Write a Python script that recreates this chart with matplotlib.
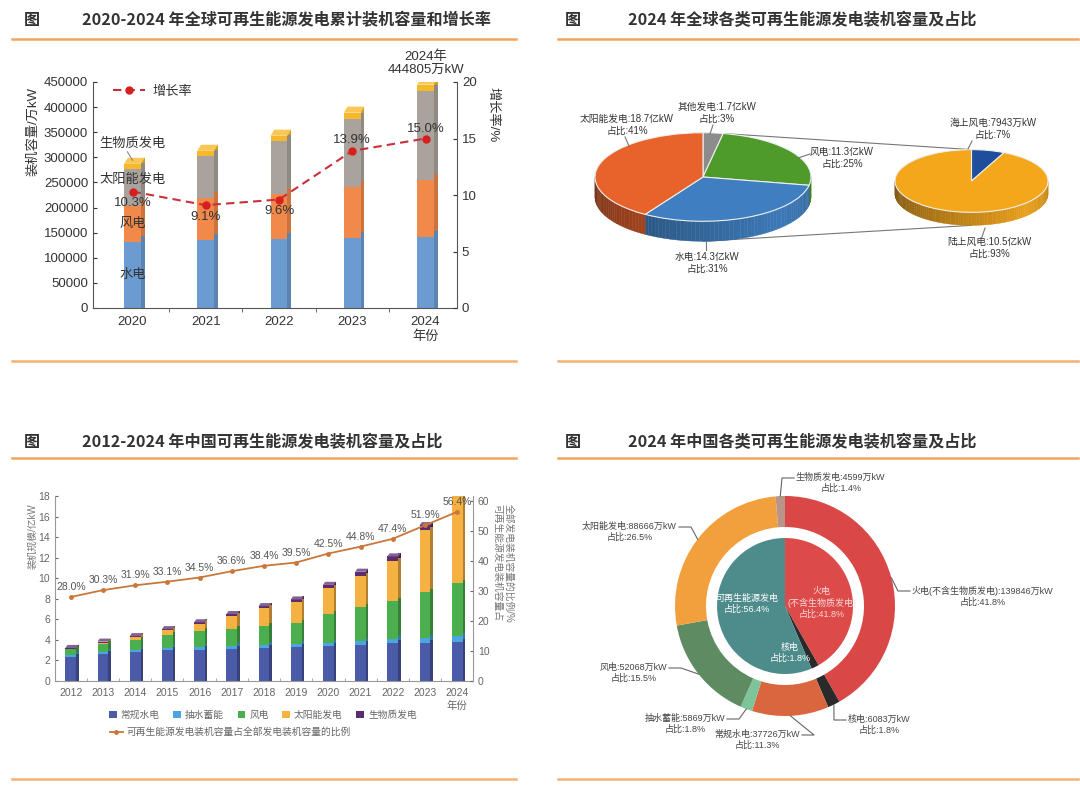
import numpy as np
import matplotlib
matplotlib.use("Agg")
import matplotlib.pyplot as plt
import matplotlib.colors as mcolors
from matplotlib.patches import Polygon, Patch
from matplotlib.lines import Line2D

plt.rcParams["font.family"] = ["Liberation Sans", "Noto Sans CJK SC", "DejaVu Sans"]
plt.rcParams["axes.unicode_minus"] = False

# ---------------- data ----------------
# Panel 1: global renewable capacity (万kW) and growth rate (%)
g_years = ["2020", "2021", "2022", "2023", "2024"]
g_hydro = [131000, 135000, 138000, 140000, 141000]
g_wind = [73000, 84000, 88000, 101000, 114000]
g_solar = [72000, 83000, 106000, 136000, 177000]
g_bio = [11000, 11000, 11000, 12000, 12805]
g_growth = [10.3, 9.1, 9.6, 13.9, 15.0]
g_series = ["水电", "风电", "太阳能发电", "生物质发电"]
g_line_name = "增长率"

# Panel 2: 2024 global renewable capacity mix
p_names = ["其他发电", "风电", "水电", "太阳能发电"]
p_caps = ["1.7亿kW", "11.3亿kW", "14.3亿kW", "18.7亿kW"]
p_share = [3, 25, 31, 41]
w_names = ["海上风电", "陆上风电"]
w_caps = ["7943万kW", "10.5亿kW"]
w_share = [7, 93]

# Panel 3: China renewable capacity (亿kW) and share (%)
c_years = ["2012", "2013", "2014", "2015", "2016", "2017", "2018",
           "2019", "2020", "2021", "2022", "2023", "2024"]
c_conv = [2.29, 2.59, 2.80, 2.97, 3.06, 3.13, 3.22, 3.26, 3.39, 3.55, 3.68, 3.71, 3.77]
c_pump = [0.20, 0.22, 0.22, 0.23, 0.27, 0.29, 0.30, 0.30, 0.31, 0.36, 0.45, 0.51, 0.59]
c_wind = [0.61, 0.77, 0.96, 1.31, 1.49, 1.64, 1.84, 2.10, 2.82, 3.28, 3.65, 4.41, 5.21]
c_solar = [0.03, 0.16, 0.28, 0.43, 0.77, 1.30, 1.74, 2.04, 2.53, 3.06, 3.93, 6.09, 8.87]
c_bio = [0.08, 0.09, 0.10, 0.10, 0.12, 0.15, 0.18, 0.23, 0.30, 0.38, 0.41, 0.44, 0.46]
c_ratio = [28.0, 30.3, 31.9, 33.1, 34.5, 36.6, 38.4, 39.5, 42.5, 44.8, 47.4, 51.9, 56.4]
c_series = ["常规水电", "抽水蓄能", "风电", "太阳能发电", "生物质发电"]
c_line_name = "可再生能源发电装机容量占全部发电装机容量的比例"

# Panel 4: 2024 China capacity mix (万kW)
d_names = ["火电(不含生物质发电)", "核电", "常规水电", "抽水蓄能", "风电", "太阳能发电", "生物质发电"]
d_caps = [139846, 6083, 37726, 5869, 52068, 88666, 4599]
d_share = [41.8, 1.8, 11.3, 1.8, 15.5, 26.5, 1.4]
d_inner_names = ["火电\n(不含生物质发电)", "核电", "可再生能源发电"]
d_inner_share = [41.8, 1.8, 56.4]

# ---------------- helpers ----------------
W, H = 1080, 787
fig = plt.figure(figsize=(W / 100, H / 100), dpi=100)
fig.patch.set_facecolor("white")
CJK = ["Noto Sans CJK SC", "DejaVu Sans"]


def axbox(x0, y0, x1, y1):
    return fig.add_axes([x0 / W, 1 - y1 / H, (x1 - x0) / W, (y1 - y0) / H])


def ftext(px, py, s, **kw):
    return fig.text(px / W, 1 - py / H, s, **kw)


def fpoly(xs, ys, **kw):
    fig.add_artist(Line2D([x / W for x in xs], [1 - y / H for y in ys],
                          transform=fig.transFigure, **kw))


def shade(c, f):
    r, g, b = mcolors.to_rgb(c)
    if f <= 1:
        return (r * f, g * f, b * f)
    t = f - 1
    return (r + (1 - r) * t, g + (1 - g) * t, b + (1 - b) * t)


def bars3d(ax, x, series, cols, w, sd, cap, side_f, cap_f):
    bottom = np.zeros(len(x))
    bottoms = []
    for i, (vals, c) in enumerate(zip(series, cols)):
        v = np.array(vals, float)
        bottoms.append(bottom.copy())
        ax.bar(x, v, w, bottom=bottom, color=c, lw=0, zorder=2)
        sb = bottom + cap if i > 0 else bottom
        sh = v if i > 0 else v + cap
        ax.bar(x + w / 2 + sd / 2, sh, sd, bottom=sb, color=shade(c, side_f), lw=0, zorder=2)
        bottom = bottom + v
    for xi, t in zip(x, bottom):
        ax.fill([xi - w / 2, xi + w / 2, xi + w / 2 + sd, xi - w / 2 + sd],
                [t, t, t + cap, t + cap], color=shade(cols[-1], cap_f), lw=0, zorder=3)
    return bottom, bottoms


# ---------------- titles & rules ----------------
ORANGE = "#F2A45E"
TCOL = "#333333"
layout = [
    (12, 516, 20, 39, 361, 32, 82, "2020-2024 年全球可再生能源发电累计装机容量和增长率"),
    (558, 1078, 20, 39, 361, 573, 628, "2024 年全球各类可再生能源发电装机容量及占比"),
    (12, 516, 442, 458, 779, 32, 82, "2012-2024 年中国可再生能源发电装机容量及占比"),
    (558, 1078, 442, 458, 779, 573, 628, "2024 年中国各类可再生能源发电装机容量及占比"),
]
for x0, x1, ty, ly, by, gx, tx, t in layout:
    ftext(gx, ty, "图", fontsize=11.6, weight="bold", color=TCOL, family=CJK,
          ha="center", va="center")
    ftext(tx, ty, t, fontsize=11.6, weight="bold", color=TCOL, family=CJK,
          ha="left", va="center")
    fpoly([x0, x1], [ly, ly], color=ORANGE, lw=1.8)
    fpoly([x0, x1], [by, by], color=ORANGE, lw=1.8, alpha=0.85)

# ---------------- Panel 1 ----------------
ax1 = axbox(93, 82, 457, 308)
x1 = np.arange(len(g_years))
c1 = ["#6C9BD2", "#F0894A", "#A9A29D", "#F6B92B"]
tot1, seg_bottoms = bars3d(ax1, x1, [g_hydro, g_wind, g_solar, g_bio], c1,
                           0.23, 0.05, 12000, 0.85, 1.2)

ax1.set_xlim(-0.54, 4.43)
ax1.set_ylim(0, 450000)
ax1.set_yticks(np.arange(0, 450001, 50000))
ax1.set_xticks(x1)
ax1.set_xticklabels(g_years[:-1] + [g_years[-1] + "\n年份"], linespacing=1.25)
ax1.set_xticks(x1[:-1] + 0.5, minor=True)
ax1.tick_params(axis="x", which="major", length=0, pad=6, labelsize=9.5, colors="#333")
ax1.tick_params(axis="x", which="minor", length=3, direction="out", color="#555")
ax1.tick_params(axis="y", length=3, direction="in", labelsize=9.5, colors="#333")
ax1.spines["top"].set_visible(False)
ax1.spines["right"].set_visible(False)
for s in ["left", "bottom"]:
    ax1.spines[s].set_color("#555")

ax1r = ax1.twinx()
ax1r.set_ylim(0, 20)
ax1r.set_yticks([0, 5, 10, 15, 20])
ax1r.tick_params(axis="y", length=3, direction="in", labelsize=9.5, colors="#333")
ax1r.spines["top"].set_visible(False)
ax1r.spines["left"].set_visible(False)
ax1r.spines["bottom"].set_visible(False)
ax1r.spines["right"].set_color("#555")
line_kw = dict(color="#C9303B", lw=1.5, ls=(0, (4, 2.5)), marker="o", ms=5,
               mfc="#D71F1F", mec="#D71F1F")
ax1r.plot(x1, g_growth, zorder=5, **line_kw)
g_lab_dy = [-11, -12, -11, 11, 10]
for xi, v, dy in zip(x1, g_growth, g_lab_dy):
    ax1r.annotate(f"{v:.1f}%", (xi, v), xytext=(0, dy), textcoords="offset pixels",
                  ha="center", va="center", fontsize=9.5, color="#333")

# series names on first bar
seg_vals = [g_hydro, g_wind, g_solar]
seg_frac = [0.5, 0.5, 0.72]
for name, b, v, fr in zip(g_series[:3], seg_bottoms[:3], seg_vals, seg_frac):
    ax1.text(x1[0], b[0] + v[0] * fr, name, ha="center", va="center",
             fontsize=9.5, color="#333", zorder=6)
ax1.text(x1[0], tot1[0] + 40000, g_series[3], ha="center", va="center",
         fontsize=9.5, color="#333", zorder=6)
ax1.plot([x1[0] - 0.07, x1[0]], [tot1[0] + 24000, tot1[0] + 7000], color="#888",
         lw=0.8, zorder=6)

ax1.annotate(f"{g_years[-1]}年\n{int(round(tot1[-1]))}万kW", (x1[-1], tot1[-1]),
             xytext=(0, 9), textcoords="offset pixels", ha="center", va="bottom",
             fontsize=9.5, color="#333", linespacing=1.1, annotation_clip=False)

leg1 = ax1.legend([Line2D([], [], **line_kw)], [g_line_name], loc="center left",
                  bbox_to_anchor=(0.055, 0.956), frameon=False, fontsize=9.5,
                  handlelength=2.4, handletextpad=0.6, borderpad=0, borderaxespad=0)
for txt in leg1.get_texts():
    txt.set_color("#333")

ftext(33, 132, "装机容量/万kW", rotation=90, ha="center", va="center",
      fontsize=9.5, color="#333")
ftext(493, 115, "增长率/%", rotation=-90, ha="center", va="center",
      fontsize=9.5, color="#333")

# ---------------- Panel 2 ----------------
ax2 = axbox(559, 45, 1078, 355)
K = 0.41


def py2d(py):
    return (H - py) / K


def pie_side(ax, wedges, cols, center, r, depth):
    cx, cy = center
    for wdg, c in zip(wedges, cols):
        t1, t2 = wdg.theta1, wdg.theta2
        for k in range(-3, 2):
            a, b = max(t1, 180 + 360 * k), min(t2, 360 + 360 * k)
            if b <= a:
                continue
            edges = np.linspace(a, b, max(2, int((b - a) / 2) + 1))
            for e0, e1 in zip(edges[:-1], edges[1:]):
                ts = np.radians(np.linspace(e0, e1, 4))
                xs = cx + r * np.cos(ts)
                ys = cy + r * np.sin(ts)
                tm = ts.mean()
                mid = np.degrees(np.arctan2(np.sin(tm), np.cos(tm)))
                f = 0.5 + 0.45 * max(0.0, 1 - abs(mid + 45) / 135)
                poly = np.column_stack([np.r_[xs, xs[::-1]], np.r_[ys, ys[::-1] - depth]])
                ax.add_patch(Polygon(poly, closed=True, fc=shade(c, f), ec=shade(c, f),
                                     lw=0.3, zorder=0.5))


p_cols = ["#8C8C8C", "#4E9A2B", "#3F7FC1", "#E8622B"]
w_cols = ["#1F4E9C", "#F5A71C"]
c_main, r_main, dep_main = (703, py2d(177)), 108, 20 / K
c_sec, r_sec, dep_sec = (971.5, py2d(181)), 76.5, 13 / K
wp = dict(edgecolor="#eeeeee", lw=0.8)
wm, _ = ax2.pie(p_share, colors=p_cols, startangle=90, counterclock=False,
                center=c_main, radius=r_main, wedgeprops=wp)
ws, _ = ax2.pie(w_share, colors=w_cols, startangle=90, counterclock=False,
                center=c_sec, radius=r_sec, wedgeprops=wp)
pie_side(ax2, wm, p_cols, c_main, r_main, dep_main)
pie_side(ax2, ws, w_cols, c_sec, r_sec, dep_sec)
ax2.set_aspect("auto")
ax2.set_xlim(559, 1078)
ax2.set_ylim(py2d(355), py2d(45))
ax2.axis("off")
tb = np.radians(wm[0].theta1)
ax2.plot([c_main[0] + r_main * np.cos(tb), c_sec[0]],
         [c_main[1] + r_main * np.sin(tb), c_sec[1] + r_sec], color="#777", lw=0.8, zorder=0.4)
ax2.plot([c_main[0], c_sec[0]],
         [c_main[1] - r_main - dep_main, c_sec[1] - r_sec - dep_sec],
         color="#777", lw=0.8, zorder=0.4)

p_pos = [(717, 113), (842, 158), (707, 263), (627, 125)]
p_lead = [((713, 125), (710, 134)), ((810, 154), (798, 158)),
          ((706, 242), (706, 250)), ((625, 137), (629, 146))]
for n, cap, sh, (tx, ty), (a, b) in zip(p_names, p_caps, p_share, p_pos, p_lead):
    ftext(tx, ty, f"{n}:{cap}\n占比:{sh}%", ha="center", va="center",
          multialignment="center", fontsize=7, color="#333", linespacing=1.25)
    fpoly([a[0], b[0]], [a[1], b[1]], color="#777", lw=0.8)
w_pos = [(993, 129), (989, 248)]
w_lead = [((972, 141), (968, 149)), ((985, 228), (982, 237))]
for n, cap, sh, (tx, ty), (a, b) in zip(w_names, w_caps, w_share, w_pos, w_lead):
    ftext(tx, ty, f"{n}:{cap}\n占比:{sh}%", ha="center", va="center",
          multialignment="center", fontsize=7, color="#333", linespacing=1.25)
    fpoly([a[0], b[0]], [a[1], b[1]], color="#777", lw=0.8)

# ---------------- Panel 3 ----------------
ax3 = axbox(55, 496, 473, 681)
x3 = np.arange(len(c_years))
c3 = ["#4B5BA8", "#4AA6E0", "#4CAF4F", "#F5B142", "#5B2C6F"]
bars3d(ax3, x3, [c_conv, c_pump, c_wind, c_solar, c_bio], c3, 0.34, 0.07, 0.3, 0.72, 1.25)
ax3.set_xlim(-0.49, 12.49)
ax3.set_ylim(0, 18)
ax3.set_yticks(np.arange(0, 19, 2))
ax3.set_xticks(x3)
ax3.set_xticklabels(c_years[:-1] + [c_years[-1] + "\n年份"], linespacing=1.3)
ax3.set_xticks(x3[:-1] + 0.5, minor=True)
ax3.tick_params(axis="x", which="major", length=0, pad=5, labelsize=7.5, colors="#666")
ax3.tick_params(axis="x", which="minor", length=2.5, direction="in", color="#999")
ax3.tick_params(axis="y", length=2.5, direction="in", labelsize=7.5, colors="#666")
ax3.spines["top"].set_visible(False)
ax3.spines["right"].set_visible(False)
for s in ["left", "bottom"]:
    ax3.spines[s].set_color("#999")
ax3r = ax3.twinx()
ax3r.set_ylim(0, 61.67)
ax3r.set_yticks(np.arange(0, 61, 10))
ax3r.tick_params(axis="y", length=2.5, direction="in", labelsize=7.5, colors="#666")
for s in ["top", "left", "bottom"]:
    ax3r.spines[s].set_visible(False)
ax3r.spines["right"].set_color("#999")
l3_kw = dict(color="#C9773A", lw=1.3, marker="o", ms=2.5)
ax3r.plot(x3, c_ratio, zorder=5, **l3_kw)
for xi, v in zip(x3, c_ratio):
    ax3r.annotate(f"{v:.1f}%", (xi, v), xytext=(0, 10), textcoords="offset pixels",
                  ha="center", va="center", fontsize=7.5, color="#555")
ftext(32, 536, "装机规模/亿kW", rotation=90, ha="center", va="center",
      fontsize=7, color="#777")
ftext(503, 563, "全部发电装机容量的比例/%\n可再生能源发电装机容量占", rotation=-90,
      ha="center", va="center", fontsize=7, color="#777", linespacing=1.2)
lg_a = ax3.legend([Patch(fc=c, ec="none") for c in c3], c_series, ncol=5,
                  loc="center left", bbox_to_anchor=(109 / W, 1 - 715 / H),
                  bbox_transform=fig.transFigure, frameon=False, fontsize=7,
                  handlelength=0.8, handleheight=0.8, handletextpad=0.4,
                  columnspacing=1.4, borderaxespad=0, borderpad=0)
for t in lg_a.get_texts():
    t.set_color("#666")
ax3.add_artist(lg_a)
lg_b = ax3.legend([Line2D([], [], **l3_kw)], [c_line_name], loc="center left",
                  bbox_to_anchor=(110 / W, 1 - 732 / H), bbox_transform=fig.transFigure,
                  frameon=False, fontsize=7, handlelength=1.3, handletextpad=0.4,
                  borderaxespad=0, borderpad=0)
for t in lg_b.get_texts():
    t.set_color("#666")

# ---------------- Panel 4 ----------------
ax4 = axbox(559, 462, 1078, 778)
cxy = (785, H - 606)
d_cols = ["#DA4747", "#2A2A2A", "#D9663F", "#7DC49A", "#5E8B61", "#F2A03D", "#B89489"]
in_cols = ["#DC4A4A", "#2A2A2A", "#4E8C8C"]
R_OUT, R_W, R_IN = 110, 31, 68
wo, _ = ax4.pie(d_caps, radius=R_OUT, center=cxy, startangle=90, counterclock=False,
                colors=d_cols, wedgeprops=dict(width=R_W, edgecolor="none"))
wi, _ = ax4.pie(d_inner_share, radius=R_IN, center=cxy, startangle=90,
                counterclock=False, colors=in_cols, wedgeprops=dict(edgecolor="none"))
ax4.set_aspect("auto")
ax4.set_xlim(559, 1078)
ax4.set_ylim(H - 778, H - 462)
ax4.axis("off")

d_lab = [(912, 591, "left"), (848, 720, "left"), (800, 735, "right"),
         (725, 719, "right"), (667, 668, "right"), (677, 527, "right"),
         (796, 478, "left")]
for n, cap, sh, wdg, (tx, ty, ha) in zip(d_names, d_caps, d_share, wo, d_lab):
    ftext(tx, ty - 5.5, f"{n}:{cap}万kW\n占比:{sh}%", ha=ha, va="top",
          multialignment="center", fontsize=6.5, color="#444", linespacing=1.25)
    tm = np.radians((wdg.theta1 + wdg.theta2) / 2)
    rx = cxy[0] + R_OUT * np.cos(tm)
    ry = H - (cxy[1] + R_OUT * np.sin(tm))
    sgn = -1 if ha == "left" else 1
    fpoly([tx + sgn * 2, tx + sgn * 14, rx], [ty, ty, ry], color="#666", lw=0.8)

in_pos = [(822, 603), (790, 653), (747, 604)]
in_tc = ["#F8D8D8", "#FFFFFF", "#FFFFFF"]
for n, sh, (tx, ty), tc in zip(d_inner_names, d_inner_share, in_pos, in_tc):
    ftext(tx, ty, f"{n}\n占比:{sh}%", ha="center", va="center",
          multialignment="center", fontsize=6.5, color=tc, linespacing=1.25)

fig.savefig("out.png", dpi=100, facecolor="white")
